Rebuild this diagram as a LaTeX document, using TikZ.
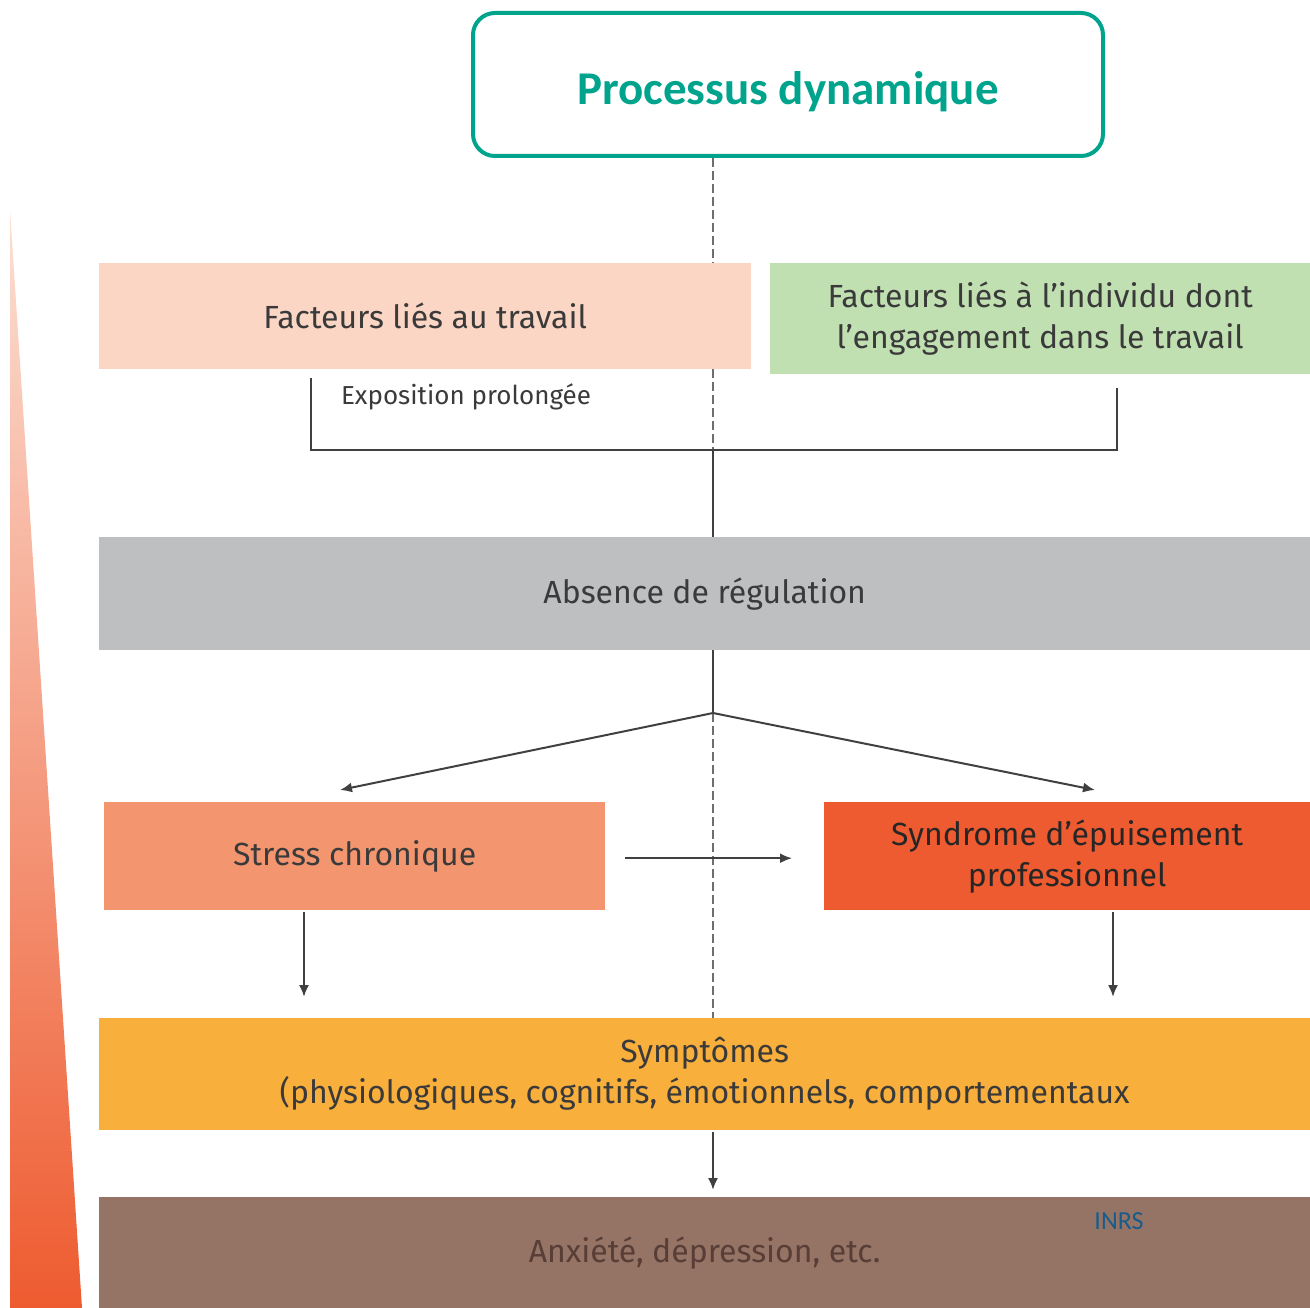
\documentclass[tikz,border=0pt]{standalone}
\usepackage{fontspec}
\setmainfont{Carlito}
\newfontfamily\bodyfont{Fira Sans}
\usetikzlibrary{arrows.meta}
\definecolor{tealc}{RGB}{0,163,140}
\definecolor{peach}{RGB}{251,214,196}
\definecolor{lgreen}{RGB}{193,224,178}
\definecolor{lgray}{RGB}{189,191,193}
\definecolor{stressc}{RGB}{243,150,112}
\definecolor{syndc}{RGB}{238,91,48}
\definecolor{sympc}{RGB}{249,175,60}
\definecolor{anxc}{RGB}{149,116,102}
\definecolor{txt}{RGB}{58,58,58}
\definecolor{anxtxt}{RGB}{88,62,54}
\definecolor{linec}{RGB}{64,64,64}
\definecolor{dashc}{RGB}{110,110,110}
\definecolor{inrsc}{RGB}{24,92,140}
\begin{document}
\begin{tikzpicture}[x=1pt,y=-1pt,
  box/.style={rectangle,inner sep=0pt,anchor=north west,align=center,text=txt,
    font=\bodyfont\fontsize{32}{41}\selectfont},
  conn/.style={draw=linec,line width=2pt},
  arr/.style={draw=linec,line width=2pt,-{Latex[length=12pt,width=10pt]}},
  dashline/.style={draw=dashc,line width=2.5pt,dash pattern=on 9pt off 4pt}]
\useasboundingbox (0,0) rectangle (1310,1308);
% left triangle
\shade[top color=white!70!stressc, middle color=stressc!90!orange, bottom color=syndc]
  (10,210) -- (82,1308) -- (10,1308) -- cycle;
% title
\node[rectangle,rounded corners=22pt,draw=tealc,line width=4pt,minimum width=630pt,
  minimum height=143pt,text=tealc,text height=51pt,text depth=10pt,
  font=\bfseries\fontsize{47}{54}\selectfont] (title)
  at (788,84.5) {Processus dynamique};
% boxes
\node[box,fill=peach,minimum width=652pt,minimum height=106pt] (fw) at (99,263) {Facteurs liés au travail};
\node[box,fill=lgreen,minimum width=540pt,minimum height=111pt] (fi) at (770,263)
  {Facteurs liés à l’individu dont\\l’engagement dans le travail};
\node[box,fill=lgray,minimum width=1211pt,minimum height=113pt] (abs) at (99,537) {Absence de régulation};
\node[box,fill=stressc,minimum width=501pt,minimum height=108pt] (stress) at (104,802) {Stress chronique};
\node[box,fill=syndc,minimum width=486pt,minimum height=108pt,text=black!85] (synd) at (824,802)
  {Syndrome d’épuisement\\professionnel};
\node[box,fill=sympc,minimum width=1211pt,minimum height=112pt] (symp) at (99,1018)
  {Symptômes\\(physiologiques, cognitifs, émotionnels, comportementaux};
\node[box,fill=anxc,minimum width=1211pt,minimum height=111pt,text=anxtxt] (anx) at (99,1197)
  {Anxiété, dépression, etc.};
\node[text=txt,font=\bodyfont\fontsize{26}{30}\selectfont] (expo) at (466,397) {Exposition prolongée};
\node[text=inrsc,font=\fontsize{26}{30}\selectfont] (inrs) at (1119,1221) {INRS};
% coordinates
\coordinate (bl) at (311,378);
\coordinate (br) at (1117,388);
\coordinate (bm) at (713,450);
\coordinate (split) at (713,713);
\coordinate (sl) at (340,790);
\coordinate (sr) at (1095,790);
% vertical axis
\draw[dashline] (title.south -| bm) -- (fw.north -| bm);
\draw[dashline] (fw.south -| bm) -- (bm);
\draw[conn] (bm) -- (abs.north -| bm);
\draw[conn] (abs.south -| bm) -- (split);
\draw[dashline] (split) -- (symp.north -| bm);
% bracket
\draw[conn] (bl) -- (bl |- bm) -- (br |- bm) -- (br);
% split arrows
\draw[arr] (split) -- (sl);
\draw[arr] (split) -- (sr);
% horizontal arrow
\draw[arr] ([xshift=20pt,yshift=-2pt]stress.east) -- ([xshift=-32pt,yshift=-2pt]synd.west);
% down arrows
\draw[arr] (stress.south -| 304,0) ++(0,2) -- (304,997);
\draw[arr] (synd.south -| 1113,0) ++(0,2) -- (1113,997);
\draw[arr] ([yshift=-2pt]symp.south -| bm) -- ([yshift=7pt]anx.north -| bm);
\end{tikzpicture}
\end{document}
